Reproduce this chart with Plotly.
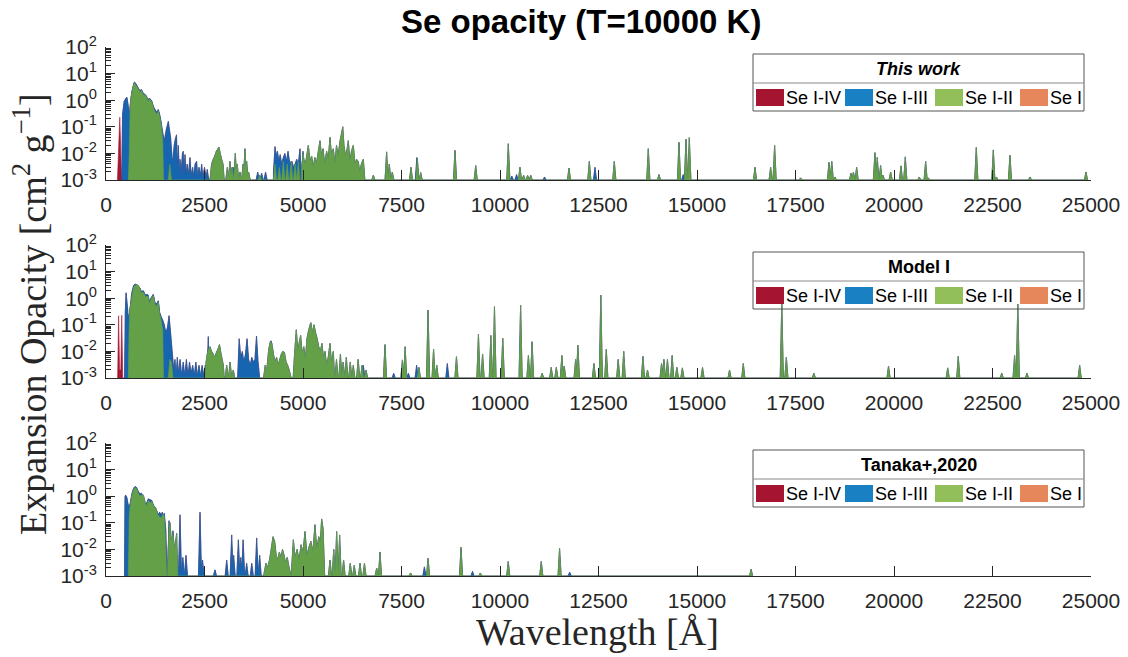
import plotly.graph_objects as go

# ---------------------------------------------------------------- data
# Wavelengths in Angstrom, opacities in cm^2/g. Bands are lists of points
# (None separates bands); lines are isolated narrow features (centre, peak).
FLOOR = 1e-3
HALF = 40  # half-width (Angstrom) used to draw an isolated line

PANEL_TITLES = ["<b><i>This work</i></b>", "<b>Model I</b>", "<b>Tanaka+,2020</b>"]
SERIES_NAMES = ["Se I-IV", "Se I-III", "Se I-II", "Se I"]
SWATCH_COLORS = ["#A51431", "#1A80C4", "#93BF5B", "#E5875B"]
FILL_COLORS = ["#A51632", "#1565B0", "#64A048", "#E5875B"]
X_TICKS = [0, 2500, 5000, 7500, 10000, 12500, 15000, 17500, 20000, 22500, 25000]
Y_TICKS = [1e-3, 1e-2, 1e-1, 1e0, 1e1, 1e2]
Y_TICK_TEXT = ["10<sup>-3</sup>", "10<sup>-2</sup>", "10<sup>-1</sup>",
               "10<sup>0</sup>", "10<sup>1</sup>", "10<sup>2</sup>"]

# ---- Panel 1: This work
P1_RED_BAND_WL = [290, 350, 368, 385, 400]
P1_RED_BAND_OP = [0.001, 0.23, 0.03, 0.003, 0.001]
P1_RED_LINE_WL = []
P1_RED_LINE_OP = []

P1_BLUE_BAND_WL = [400, 420, 460, 508, 530, 560, 590, 620, 660, 720, 760, 800, 860, 900, 950, 1000,
                   1030, 1060, 1100, 1160, 1200, 1244, 1290, 1328, 1360, 1400, 1440, 1480, 1530, 1582,
                   1600, 1640, 1680, 1700, 1730, 1760, 1790, 1810, 1835, 1860, 1880, 1900, 1940, 1960,
                   1980, 2005, 2030, 2060, 2090, 2132, 2160, 2200, 2230, 2260, 2300, 2330, 2360, 2400,
                   2428, 2460, 2500, 2540, 2570, 2600, 2640,
                   None,
                   4250, 4290, 4320, 4350, 4390, 4420, 4460, 4500, 4540, 4580, 4620, 4650, 4680, 4720,
                   4760, 4800, 4840, 4880, 4924, 4950]
P1_BLUE_BAND_OP = [0.001, 0.3, 0.9, 1.2, 1.3, 0.7, 0.25, 0.8, 2.2, 4.8, 4.2, 3.2, 2.3, 2.5, 1.8, 1.6,
                   1.4, 1.0, 1.2, 0.95, 0.6, 0.45, 0.35, 0.45, 0.3, 0.15, 0.06, 0.03, 0.08, 0.16,
                   0.1, 0.04, 0.006, 0.006, 0.02, 0.035, 0.05, 0.003, 0.02, 0.002, 0.006, 0.0015, 0.01, 0.012,
                   0.0015, 0.009, 0.0015, 0.004, 0.0015, 0.007, 0.0015, 0.003, 0.0012, 0.004, 0.005, 0.0012, 0.003, 0.0015,
                   0.004, 0.0012, 0.003, 0.0012, 0.0025, 0.0012, 0.001,
                   None,
                   0.002, 0.018, 0.008, 0.012, 0.005, 0.009, 0.004, 0.007, 0.01, 0.005, 0.012, 0.006, 0.004, 0.005,
                   0.003, 0.004, 0.006, 0.004, 0.015, 0.002]
P1_BLUE_LINE_WL = [3232, 3850, 3950, 4050, 5000, 7890, 10300, 10420, 11130, 12411, 14650]
P1_BLUE_LINE_OP = [0.003, 0.002, 0.0018, 0.002, 0.012, 0.007, 0.0014, 0.0016, 0.0013, 0.003, 0.0016]

P1_GREEN_BAND_WL = [567, 590, 610, 626, 660, 700, 720, 750, 800, 863, 900, 950, 1000, 1032, 1060, 1100,
                    1159, 1200, 1244, 1290, 1328, 1360, 1400, 1440, 1460,
                    None,
                    2640, 2680, 2720, 2760, 2800, 2840, 2868, 2900, 2935, 2970, 3000,
                    None,
                    4960, 5000, 5040, 5080, 5135, 5180, 5220, 5260, 5300, 5340, 5380, 5431, 5470, 5510,
                    5550, 5600, 5640, 5685, 5720, 5770, 5810, 5850, 5890, 5940, 5981, 6010, 6040, 6080,
                    6120, 6150, 6190, 6230, 6277, 6320, 6360, 6404, 6440, 6480, 6531, 6570]
P1_GREEN_BAND_OP = [0.001, 0.01, 0.3, 1.0, 2.0, 3.8, 4.5, 3.8, 3.0, 2.1, 2.3, 1.6, 1.5, 1.3, 0.9, 1.1,
                    0.9, 0.55, 0.35, 0.3, 0.4, 0.25, 0.12, 0.03, 0.001,
                    None,
                    0.001, 0.004, 0.006, 0.008, 0.012, 0.015, 0.017, 0.01, 0.006, 0.004, 0.001,
                    None,
                    0.002, 0.01, 0.004, 0.006, 0.02, 0.005, 0.008, 0.003, 0.007, 0.004, 0.01, 0.03, 0.008, 0.015,
                    0.004, 0.012, 0.006, 0.04, 0.01, 0.015, 0.004, 0.02, 0.008, 0.03, 0.06, 0.1, 0.02, 0.008,
                    0.015, 0.03, 0.005, 0.012, 0.02, 0.004, 0.006, 0.005, 0.002, 0.004, 0.006, 0.001]
P1_GREEN_LINE_WL = [1620, 3080, 3147, 3200, 3282, 3330, 3400, 3480, 3527, 3570, 3620, 3900, 4290, 4400,
                    4500, 4600, 4700, 4800, 4880, 6785, 7122, 7190, 7267, 7741, 7902, 7987, 8858, 9383,
                    10211, 10507, 10600, 10700, 10780, 11751, 12267, 12901, 13764, 14035, 14543, 14721,
                    14805, 16472, 16869, 16970, 17630, 18350, 18420, 18500, 18908, 18970, 19052, 19516,
                    19576, 19660, 19720, 19915, 20177, 20287, 20641, 20803, 20870, 22089, 22521, 22600,
                    22943, 23451, 24872]
P1_GREEN_LINE_OP = [0.004, 0.003, 0.005, 0.003, 0.01, 0.004, 0.002, 0.004, 0.015, 0.005, 0.002, 0.0015, 0.004, 0.003,
                    0.005, 0.004, 0.005, 0.004, 0.005, 0.0015, 0.0114, 0.004, 0.002, 0.003, 0.0065, 0.0019, 0.013, 0.0035,
                    0.023, 0.003, 0.0015, 0.0015, 0.0015, 0.0028, 0.005, 0.005, 0.015, 0.0016, 0.026, 0.034,
                    0.039, 0.003, 0.003, 0.02, 0.0012, 0.0046, 0.005, 0.0013, 0.0018, 0.002, 0.003, 0.0107,
                    0.007, 0.0035, 0.0015, 0.002, 0.0034, 0.0074, 0.0013, 0.005, 0.0012, 0.0167, 0.0135, 0.0013,
                    0.0085, 0.0013, 0.002]

# ---- Panel 2: Model I
P2_RED_BAND_WL = [295, 320, 345, 375, 400, 425]
P2_RED_BAND_OP = [0.001, 0.22, 0.002, 0.002, 0.23, 0.001]
P2_RED_LINE_WL = []
P2_RED_LINE_OP = []

P2_BLUE_BAND_WL = [470, 490, 508, 530, 560, 590, 620, 650, 700, 740, 800, 860, 900, 948, 1000, 1040,
                   1074, 1100, 1140, 1201, 1240, 1280, 1328, 1360, 1400, 1440, 1480, 1520, 1560, 1600,
                   1640, 1680, 1720, 1750, 1780, 1810, 1840, 1880, 1920, 1960, 2000, 2040, 2080, 2120,
                   2160, 2200, 2240, 2280, 2320, 2360, 2400, 2440, 2480, 2520, 2560, 2597, 2620,
                   None,
                   3340, 3380, 3420, 3460, 3500, 3540, 3580, 3620, 3660, 3700, 3740, 3780, 3820, 3860, 3900]
P2_BLUE_BAND_OP = [0.001, 0.3, 1.6, 0.8, 0.25, 0.2, 0.5, 1.5, 3.0, 3.4, 3.0, 2.4, 1.8, 1.9, 1.3, 1.4,
                   1.3, 0.7, 1.0, 1.4, 0.7, 0.6, 0.8, 0.3, 0.2, 0.15, 0.1, 0.05, 0.08, 0.22,
                   0.05, 0.01, 0.002, 0.005, 0.0012, 0.006, 0.0015, 0.005, 0.0012, 0.004, 0.0012, 0.005, 0.0012, 0.004,
                   0.0015, 0.003, 0.0012, 0.004, 0.0012, 0.003, 0.0012, 0.003, 0.0012, 0.003, 0.0012, 0.036, 0.001,
                   None,
                   0.001, 0.03, 0.006, 0.01, 0.004, 0.008, 0.03, 0.005, 0.003, 0.006, 0.004, 0.005, 0.038, 0.004, 0.001]
P2_BLUE_LINE_WL = [4190, 6531, 7302, 7674, 7884, 8663]
P2_BLUE_LINE_OP = [0.025, 0.003, 0.0015, 0.0015, 0.003, 0.0035]

P2_GREEN_BAND_WL = [567, 585, 605, 630, 660, 700, 740, 780, 821, 860, 900, 948, 1000, 1040, 1074, 1100,
                    1140, 1201, 1240, 1280, 1328, 1360, 1400, 1440, 1460,
                    None,
                    1580, 1620, 1660, 1700,
                    None,
                    2512, 2540, 2570, 2600, 2640, 2680, 2720, 2760, 2800, 2840, 2880, 2920, 2950, 2978, 3000,
                    None,
                    4000, 4040, 4080, 4130, 4170, 4210, 4250, 4290, 4330, 4370, 4410, 4450, 4490, 4530,
                    4570, 4610, 4650, 4700,
                    None,
                    4750, 4790, 4830, 4870, 4900, 4940, 4980, 5020, 5060, 5100, 5140, 5180, 5200, 5240,
                    5280, 5320, 5360, 5400, 5440, 5480, 5520, 5560, 5600, 5640, 5685, 5720, 5770, 5800]
P2_GREEN_BAND_OP = [0.001, 0.05, 0.4, 0.6, 1.2, 2.5, 3.1, 3.2, 3.0, 2.2, 1.6, 1.7, 1.1, 1.2, 1.15, 0.6,
                    0.9, 1.25, 0.6, 0.5, 0.7, 0.25, 0.15, 0.06, 0.001,
                    None,
                    0.001, 0.005, 0.004, 0.001,
                    None,
                    0.001, 0.004, 0.008, 0.012, 0.015, 0.01, 0.008, 0.006, 0.009, 0.012, 0.018, 0.008, 0.005, 0.003, 0.001,
                    None,
                    0.001, 0.003, 0.002, 0.012, 0.023, 0.02, 0.008, 0.004, 0.006, 0.003, 0.005, 0.008, 0.01, 0.009,
                    0.004, 0.003, 0.002, 0.001,
                    None,
                    0.001, 0.01, 0.065, 0.01, 0.02, 0.04, 0.008, 0.015, 0.005, 0.03, 0.06, 0.1, 0.12, 0.05,
                    0.1, 0.05, 0.03, 0.015, 0.01, 0.02, 0.006, 0.01, 0.003, 0.006, 0.02, 0.004, 0.01, 0.001]
P2_GREEN_LINE_WL = [3063, 3150, 3230, 5850, 5950, 6020, 6100, 6200, 6277, 6400, 6500, 6600, 7081, 7523,
                    7593, 7942, 8174, 8314, 8395, 8895, 9453, 9558, 9767, 9860, 10070, 10523, 10721, 10814,
                    11070, 11300, 11430, 11570, 11630, 11919, 11977, 12384, 12559, 12698, 13000, 13140,
                    13628, 13744, 14100, 14160, 14250, 14370, 14489, 14629, 15140, 15826, 16175, 17152,
                    17268, 17966, 19861, 21363, 21631, 22735, 23061, 23142, 23375, 24712]
P2_GREEN_LINE_OP = [0.003, 0.004, 0.002, 0.005, 0.008, 0.004, 0.006, 0.004, 0.003, 0.005, 0.003, 0.002, 0.018, 0.0048,
                    0.015, 0.0025, 0.36, 0.012, 0.003, 0.0063, 0.044, 0.008, 0.04, 0.48, 0.031, 0.55, 0.007, 0.023,
                    0.0015, 0.0025, 0.0025, 0.007, 0.0028, 0.005, 0.017, 0.0035, 1.3, 0.012, 0.005, 0.01,
                    0.0065, 0.002, 0.0035, 0.005, 0.005, 0.007, 0.0025, 0.0024, 0.0025, 0.002, 0.0035, 0.7,
                    0.006, 0.0015, 0.0028, 0.0024, 0.0065, 0.0015, 0.007, 0.6, 0.0015, 0.003]

# ---- Panel 3: Tanaka+, 2020
P3_RED_BAND_WL = []
P3_RED_BAND_OP = []
P3_RED_LINE_WL = []
P3_RED_LINE_OP = []

P3_BLUE_BAND_WL = [470, 482, 500, 530, 560, 590, 620, 660, 700, 736, 780, 820, 863, 900, 948, 980, 1020,
                   1074, 1100, 1159, 1200, 1240, 1280, 1328, 1360, 1400, 1430, 1455, 1480, 1520, 1545]
P3_BLUE_BAND_OP = [0.001, 1.0, 1.1, 0.9, 0.5, 0.4, 0.6, 1.3, 2.0, 2.3, 2.1, 1.5, 1.2, 1.3, 0.9, 0.5, 0.5,
                   0.8, 0.75, 0.7, 0.45, 0.4, 0.3, 0.2, 0.25, 0.2, 0.25, 0.15, 0.23, 0.05, 0.001]
P3_BLUE_LINE_WL = [1600, 1700, 1878, 1950, 2030, 2386, 2450, 2766, 3063, 3190, 3240, 3360, 3420, 3480,
                   3570, 3700, 3824, 3900, 8081, 9302, 11768]
P3_BLUE_LINE_OP = [0.12, 0.05, 0.2, 0.005, 0.006, 0.25, 0.004, 0.0017, 0.004, 0.035, 0.006, 0.023, 0.005, 0.023,
                   0.003, 0.003, 0.027, 0.006, 0.0022, 0.0015, 0.0014]

P3_GREEN_BAND_WL = [567, 590, 620, 660, 700, 736, 780, 820, 863, 900, 948, 990, 1032, 1074, 1120, 1159,
                    1218, 1260, 1286, 1320, 1354, 1400, 1440, 1480, 1500, 1540,
                    None,
                    1560, 1600, 1624, 1660, 1700, 1740, 1794, 1820,
                    None,
                    4000, 4060, 4100, 4150, 4200, 4239, 4280, 4320, 4360, 4400, 4440, 4480, 4520, 4560,
                    4600, 4650, 4700,
                    None,
                    4700, 4755, 4800, 4850, 4900, 4950, 5000, 5051, 5100, 5150, 5200, 5250, 5304, 5350,
                    5400, 5440, 5473, 5510, 5550]
P3_GREEN_BAND_OP = [0.001, 0.2, 0.5, 1.1, 1.8, 2.1, 1.9, 1.3, 1.0, 1.1, 1.1, 0.6, 0.42, 0.7, 0.55, 0.65,
                    0.42, 0.35, 0.28, 0.2, 0.17, 0.15, 0.2, 0.18, 0.05, 0.001,
                    None,
                    0.001, 0.06, 0.1, 0.02, 0.04, 0.01, 0.04, 0.001,
                    None,
                    0.001, 0.003, 0.002, 0.004, 0.012, 0.03, 0.02, 0.006, 0.004, 0.008, 0.005, 0.01, 0.006, 0.003,
                    0.005, 0.002, 0.001,
                    None,
                    0.001, 0.023, 0.005, 0.01, 0.004, 0.015, 0.008, 0.047, 0.006, 0.012, 0.02, 0.008, 0.085, 0.01,
                    0.03, 0.02, 0.14, 0.06, 0.001]
P3_GREEN_LINE_WL = [5685, 5780, 5854, 5930, 6030, 6200, 6300, 6447, 6560, 6870, 6954, 7732, 8174, 9011,
                    9500, 10209, 11047, 11512, 16373]
P3_GREEN_LINE_OP = [0.004, 0.01, 0.047, 0.035, 0.004, 0.003, 0.0025, 0.003, 0.003, 0.002, 0.008, 0.0013, 0.0046, 0.012,
                    0.0013, 0.0035, 0.0035, 0.011, 0.0018]

PANELS = [
    ((P1_RED_BAND_WL, P1_RED_BAND_OP, P1_RED_LINE_WL, P1_RED_LINE_OP),
     (P1_BLUE_BAND_WL, P1_BLUE_BAND_OP, P1_BLUE_LINE_WL, P1_BLUE_LINE_OP),
     (P1_GREEN_BAND_WL, P1_GREEN_BAND_OP, P1_GREEN_LINE_WL, P1_GREEN_LINE_OP)),
    ((P2_RED_BAND_WL, P2_RED_BAND_OP, P2_RED_LINE_WL, P2_RED_LINE_OP),
     (P2_BLUE_BAND_WL, P2_BLUE_BAND_OP, P2_BLUE_LINE_WL, P2_BLUE_LINE_OP),
     (P2_GREEN_BAND_WL, P2_GREEN_BAND_OP, P2_GREEN_LINE_WL, P2_GREEN_LINE_OP)),
    ((P3_RED_BAND_WL, P3_RED_BAND_OP, P3_RED_LINE_WL, P3_RED_LINE_OP),
     (P3_BLUE_BAND_WL, P3_BLUE_BAND_OP, P3_BLUE_LINE_WL, P3_BLUE_LINE_OP),
     (P3_GREEN_BAND_WL, P3_GREEN_BAND_OP, P3_GREEN_LINE_WL, P3_GREEN_LINE_OP)),
]


# ---------------------------------------------------------------- helpers
def segments(band_wl, band_op, line_wl, line_op):
    segs, sx, sy = [], [], []
    for w, o in zip(band_wl, band_op):
        if w is None:
            if sx:
                segs.append((sx, sy))
            sx, sy = [], []
            continue
        sx.append(w)
        sy.append(o)
    if sx:
        segs.append((sx, sy))
    for w, o in zip(line_wl, line_op):
        segs.append(([w - HALF, w, w + HALF], [FLOOR, o, FLOOR]))
    return segs


def outline(segs):
    segs = sorted(segs, key=lambda s: s[0][0])
    xs, ys = [], []
    for sx, sy in segs:
        xs += [sx[0]] + list(sx) + [sx[-1]]
        ys += [FLOOR] + list(sy) + [FLOOR]
    return xs, ys


# layout geometry (pixels)
W, H = 1128, 657
L, R, T, B = 106, 37, 47, 81
PW, PH = W - L - R, H - T - B
PANEL_TOPS = [47, 245, 443]
PANEL_H = 133


def px(xp):
    return (xp - L) / PW


def py(yp):
    return (H - B - yp) / PH


fig = go.Figure()
SANS = "Liberation Sans, Arial, sans-serif"
SERIF = "Liberation Serif, Times New Roman, serif"
TICK_FONT = dict(family=SANS, size=21, color="#262626")
AX = "#262626"
minor_vals = [m * 10 ** e for e in range(-3, 2) for m in range(2, 10)]

for i, (red, blue, green) in enumerate(PANELS):
    n = "" if i == 0 else str(i + 1)
    seg_r = segments(*red)
    seg_b = segments(*blue)
    seg_g = segments(*green)
    cumul = [seg_r + seg_b + seg_g, seg_b + seg_g, seg_g]  # cumulative ion stages
    for k, segs in enumerate(cumul):
        if not segs:
            continue
        xs, ys = outline(segs)
        fig.add_trace(go.Scatter(
            x=xs, y=ys, mode="lines", fill="toself", fillcolor=FILL_COLORS[k],
            line=dict(color=FILL_COLORS[k], width=0.6, simplify=False),
            name=SERIES_NAMES[k], showlegend=False, hoverinfo="skip",
            xaxis="x" + n, yaxis="y" + n))

    top = PANEL_TOPS[i]
    bottom = top + PANEL_H
    fig.layout["xaxis" + n] = dict(
        domain=[0, 1], anchor="y" + n, range=[0, 25000], tickmode="array", tickvals=X_TICKS,
        ticktext=[str(v) for v in X_TICKS], ticks="inside", ticklen=10, tickcolor=AX, tickwidth=1,
        showline=True, linecolor=AX, linewidth=1, showgrid=False, zeroline=False, automargin=False,
        tickfont=TICK_FONT, ticklabelstandoff=6, fixedrange=True)
    fig.layout["yaxis" + n] = dict(
        domain=[py(bottom), py(top)], anchor="x" + n, type="log", range=[-3, 2],
        tickmode="array", tickvals=Y_TICKS, ticktext=Y_TICK_TEXT, ticks="inside", ticklen=9,
        tickcolor=AX, tickwidth=1, showline=True, linecolor=AX, linewidth=1, showgrid=False,
        zeroline=False, automargin=False, tickfont=TICK_FONT, ticklabelstandoff=4, fixedrange=True,
        minor=dict(tickmode="array", tickvals=minor_vals, ticks="inside", ticklen=5,
                   tickcolor=AX, tickwidth=1, showgrid=False))

    # legend box (drawn by hand so it matches the two-row boxed legend)
    bx0, bx1 = 753, 1084
    by0, by1, sep = top + 7, top + 64, top + 36
    fig.add_shape(type="rect", xref="paper", yref="paper", x0=px(bx0), x1=px(bx1),
                  y0=py(by1), y1=py(by0), line=dict(color="#555555", width=1), layer="above")
    fig.add_shape(type="line", xref="paper", yref="paper", x0=px(bx0), x1=px(bx1),
                  y0=py(sep), y1=py(sep), line=dict(color="#8a8a8a", width=1), layer="above")
    fig.add_annotation(xref="paper", yref="paper", x=px((bx0 + bx1) / 2), y=py(top + 22),
                       text=PANEL_TITLES[i], showarrow=False, xanchor="center", yanchor="middle",
                       font=dict(family=SANS, size=18, color="#000000"))
    sw_left = [756, 845, 935, 1020]
    for k in range(4):
        fig.add_shape(type="rect", xref="paper", yref="paper", x0=px(sw_left[k]), x1=px(sw_left[k] + 28),
                      y0=py(top + 59), y1=py(top + 42), line=dict(width=0),
                      fillcolor=SWATCH_COLORS[k], layer="above")
        fig.add_annotation(xref="paper", yref="paper", x=px(sw_left[k] + 28), y=py(top + 51),
                           text=SERIES_NAMES[k], showarrow=False, xanchor="left", yanchor="middle",
                           font=dict(family=SANS, size=18, color="#000000"))

# titles
fig.add_annotation(xref="paper", yref="paper", x=px(581), y=py(22), text="<b>Se opacity (T=10000 K)</b>",
                   showarrow=False, xanchor="center", yanchor="middle",
                   font=dict(family=SANS, size=33, color="#000000"))
fig.add_annotation(xref="paper", yref="paper", x=px(597), y=py(632), text="Wavelength [Å]",
                   showarrow=False, xanchor="center", yanchor="middle",
                   font=dict(family=SERIF, size=38, color="#262626"))
fig.add_annotation(xref="paper", yref="paper", x=px(30), y=py(314),
                   text="Expansion Opacity [cm<sup>2</sup> g<sup>−1</sup>]", textangle=-90,
                   showarrow=False, xanchor="center", yanchor="middle",
                   font=dict(family=SERIF, size=38, color="#262626"))

fig.update_layout(width=W, height=H, margin=dict(l=L, r=R, t=T, b=B, pad=0),
                  paper_bgcolor="white", plot_bgcolor="white", showlegend=False)

fig.write_html("out.html", config={"displayModeBar": False},
               post_script="document.body.style.margin='0px';document.body.style.overflow='hidden';")
